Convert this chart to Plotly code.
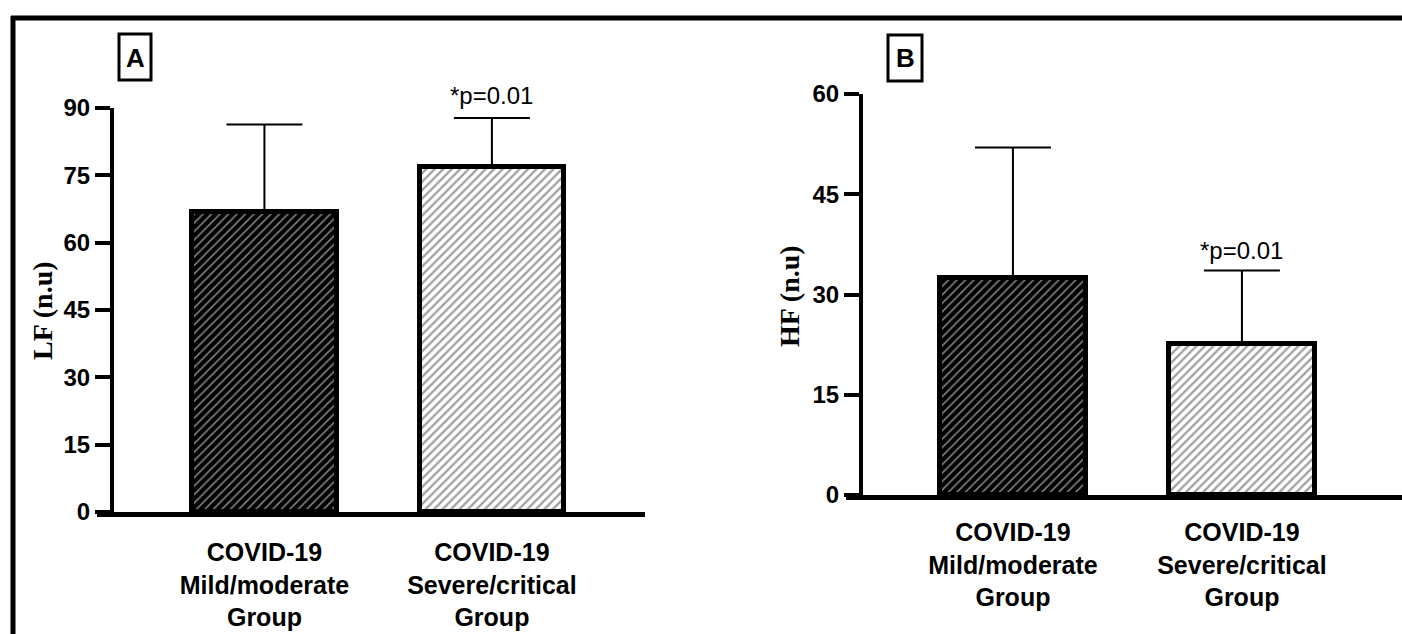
import plotly.graph_objects as go

W, H = 1402, 634

groups = ["COVID-19<br>Mild/moderate<br>Group", "COVID-19<br>Severe/critical<br>Group"]
lf_mean = [66.9, 76.8]
lf_err = [19.4, 11.0]
hf_mean = [32.4, 22.6]
hf_err = [19.6, 11.0]
lf_ticks = [0, 15, 30, 45, 60, 75, 90]
hf_ticks = [0, 15, 30, 45, 60]
p_label = "*p=0.01"

def px(x):
    return x / W

def py(y):
    return 1 - y / H

SANS = "Arial, Liberation Sans, sans-serif"
SERIF = "Times New Roman, Liberation Serif, serif"

pattern = dict(shape="/", fgcolor=["white", "black"], bgcolor=["black", "white"],
               size=6, solidity=[0.27, 0.4])

def bar(yvals, errs, xa, ya):
    return go.Bar(
        x=[0, 1], y=yvals, xaxis=xa, yaxis=ya, width=0.635,
        marker=dict(color=["black", "white"], line=dict(color="black", width=5), pattern=pattern),
        error_y=dict(type="data", array=errs, arrayminus=[0, 0], symmetric=False,
                     color="black", thickness=2, width=38),
        showlegend=False, hoverinfo="skip",
    )

fig = go.Figure()
fig.add_trace(bar(lf_mean, lf_err, "x", "y"))
fig.add_trace(bar(hf_mean, hf_err, "x2", "y2"))

tickfont = dict(family=SANS, size=24, color="black", weight="bold")

def xax(d0, d1, r, anchor, standoff):
    return dict(domain=[px(d0), px(d1)], range=r, anchor=anchor, showline=True, linewidth=5,
                linecolor="black", ticks="", tickvals=[0, 1], ticktext=groups,
                ticklabelstandoff=standoff,
                tickfont=dict(family=SANS, size=25, color="black", weight="bold"),
                showgrid=False, zeroline=False, fixedrange=True, automargin=False)

def yax(top, bottom, rng, tv, pos):
    return dict(domain=[py(bottom), py(top)], range=rng, anchor="free", position=px(pos),
                showline=True, linewidth=4, linecolor="black", ticks="outside", ticklen=15,
                tickwidth=4, tickcolor="black", tickvals=tv, tickfont=tickfont,
                showgrid=False, zeroline=False, fixedrange=True, automargin=False)

fig.update_layout(
    width=W, height=H, margin=dict(l=0, r=0, t=0, b=0, autoexpand=False),
    paper_bgcolor="white", plot_bgcolor="rgba(0,0,0,0)",
    xaxis=xax(97, 645, [-0.736, 1.673], "y", 14),
    yaxis=yax(108, 512, [0, 90], lf_ticks, 112),
    xaxis2=xax(846, 1402, [-0.729, 1.699], "y2", 11),
    yaxis2=yax(94, 495, [0, 60], hf_ticks, 861),
    bargap=0,
)

def ann(x, y, text, size, family, angle=0):
    return dict(x=px(x), y=py(y), xref="paper", yref="paper", text=text, textangle=angle,
                showarrow=False, xanchor="center", yanchor="middle",
                font=dict(family=family, size=size, color="black"))

annotations = [
    dict(x=1, y=lf_mean[1] + lf_err[1], xref="x", yref="y", text=p_label, showarrow=False,
         xanchor="center", yanchor="bottom", yshift=7, font=dict(family=SANS, size=24, color="black")),
    dict(x=1, y=hf_mean[1] + hf_err[1], xref="x2", yref="y2", text=p_label, showarrow=False,
         xanchor="center", yanchor="bottom", yshift=4, font=dict(family=SANS, size=24, color="black")),
    ann(42, 311, "<b>LF (n.u)</b>", 28, SERIF, -90),
    ann(789, 296, "<b>HF (n.u)</b>", 28, SERIF, -90),
    ann(135, 58, "<b>A</b>", 26, SANS),
    ann(905, 58, "<b>B</b>", 26, SANS),
]
fig.update_layout(annotations=annotations)

shapes = [
    dict(type="rect", xref="paper", yref="paper", x0=px(119), x1=px(151), y0=py(34), y1=py(80),
         line=dict(color="black", width=3)),
    dict(type="rect", xref="paper", yref="paper", x0=px(888), x1=px(922), y0=py(35), y1=py(81),
         line=dict(color="black", width=3)),
    dict(type="line", xref="paper", yref="paper", x0=px(13), x1=px(13), y0=0, y1=py(16),
         line=dict(color="black", width=5)),
    dict(type="line", xref="paper", yref="paper", x0=px(11), x1=1, y0=py(18), y1=py(18),
         line=dict(color="black", width=5)),
]
fig.update_layout(shapes=shapes)

fig.write_html("out.html", config={"displayModeBar": False},
               post_script="document.body.style.margin='0';document.body.style.overflow='hidden';")
